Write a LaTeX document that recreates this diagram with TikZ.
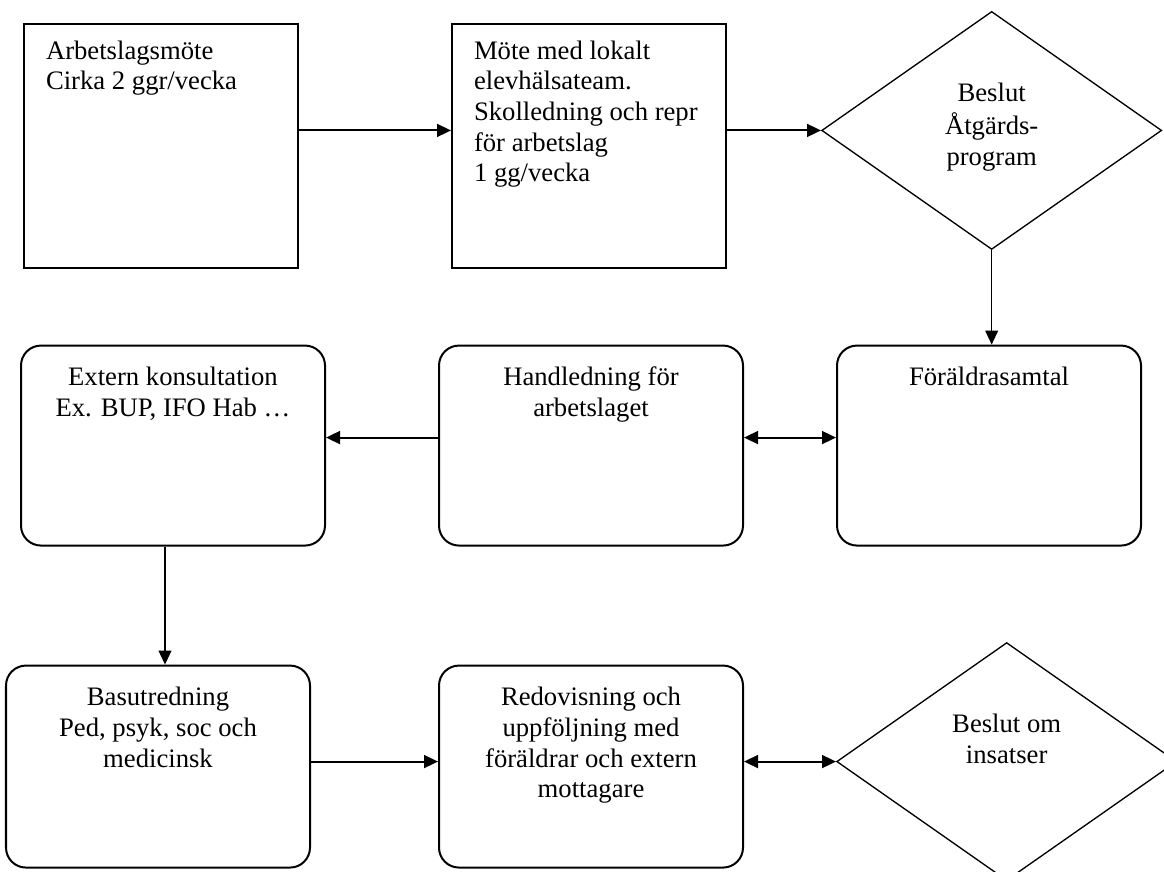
\documentclass[tikz,border=0pt]{standalone}
\usepackage{fontspec}
\setmainfont{Liberation Serif}
\usetikzlibrary{arrows.meta,positioning,shapes.geometric}
\newcommand*{\boxtxt}[3]{\parbox[t][#2][t]{#1}{#3}}

\begin{document}
\begin{tikzpicture}[->, >={Triangle[length=6.3pt,width=5.8pt]}, x=0.45pt, y=-0.45pt,
    font=\fontsize{12pt}{13.8pt}\selectfont]
    \tikzstyle{sqbox}=[draw,rectangle,line width=0.9pt,inner xsep=9.9pt,inner ysep=6.1pt]
    \tikzstyle{rndbox}=[draw,rectangle,rounded corners=9pt,line width=0.9pt,inner xsep=6pt,inner ysep=8.5pt]
    \tikzstyle{decide}=[draw,diamond,line width=0.6pt,inner sep=0pt,minimum width=153pt,minimum height=107.1pt]
    \useasboundingbox (0,0) rectangle (1164,872);
    % first row
    \node[sqbox]  (arb)     at (23,23) [anchor=north west]
        {\boxtxt{103.5pt}{97.6pt}{\raggedright\strut Arbetslagsmöte\\Cirka 2 ggr/vecka}};
    \node[sqbox]  (mote)    [right=68.4pt of arb]
        {\boxtxt{103.5pt}{97.6pt}{\raggedright\strut Möte med lokalt\\elevhälsateam.\\Skolledning och repr\\för arbetslag\\1 gg/vecka}};
    \node[decide] (beslut)  [right=42.3pt of mote, yshift=7pt]
        {\boxtxt{55pt}{45.5pt}{\centering\strut Beslut\\Åtgärds-\\program}};
    % second row
    \node[rndbox] (foralder) [below=42.5pt of beslut, xshift=-1.2pt]
        {\boxtxt{124.8pt}{73pt}{\centering\strut Föräldrasamtal}};
    \node[rndbox] (handl)   [left=41.4pt of foralder]
        {\boxtxt{124.8pt}{73pt}{\centering\strut Handledning för\\arbetslaget}};
    \node[rndbox] (extern)  [left=50.4pt of handl]
        {\boxtxt{124.8pt}{73pt}{\centering\strut Extern konsultation\\Ex. BUP, IFO Hab …}};
    % third row
    \node[rndbox] (basutr)  [below=53.1pt of extern, xshift=-6.75pt]
        {\boxtxt{124.8pt}{73.9pt}{\centering\strut Basutredning\\Ped, psyk, soc och\\medicinsk}};
    \node[rndbox] (redov)   [below=53.1pt of handl]
        {\boxtxt{124.8pt}{73.9pt}{\centering\strut Redovisning och\\uppföljning med\\föräldrar och extern\\mottagare}};
    \node[decide] (insats)  [right=41.4pt of redov, yshift=2.25pt]
        {\boxtxt{55pt}{45.5pt}{\centering\strut Beslut om\\insatser}};
    \path[line width=0.9pt]
([yshift=7pt]arb.east)      edge                 ([yshift=7pt]mote.west)
([yshift=7pt]mote.east)     edge                 (beslut.west)
([yshift=3.6pt]handl.west)  edge                 ([yshift=3.6pt]extern.east)
([yshift=3.6pt]handl.east)  edge[<->]            ([yshift=3.6pt]foralder.west)
([yshift=2.25pt]basutr.east) edge                ([yshift=2.25pt]redov.west)
([yshift=2.25pt]redov.east) edge[<->]            (insats.west);
    \path[line width=0.6pt]
(beslut.south)              edge                 (beslut.south |- foralder.north)
([xshift=-3.6pt]extern.south) edge               ([xshift=-3.6pt]extern.south |- basutr.north);
\end{tikzpicture}
\end{document}
